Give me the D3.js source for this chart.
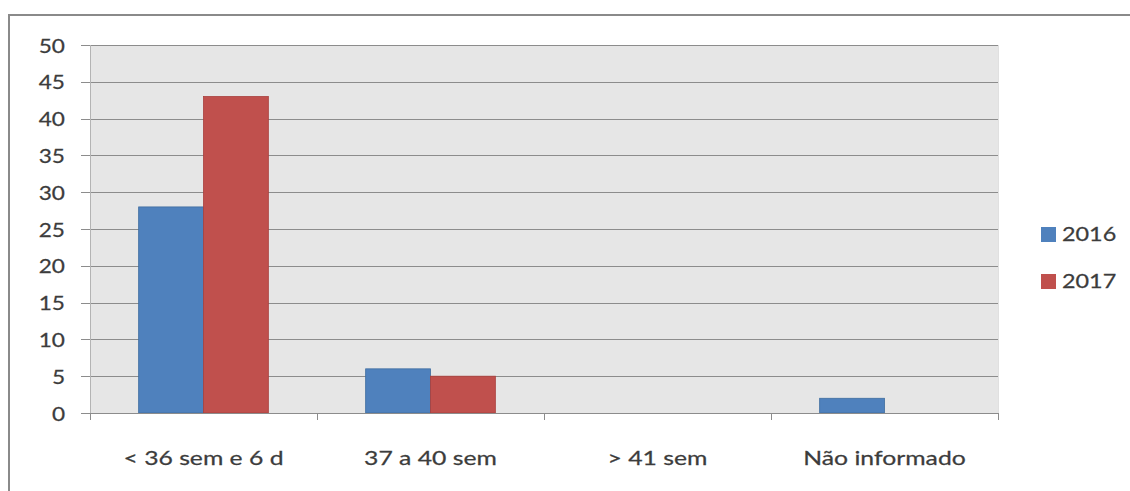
<!DOCTYPE html>
<html>
<head>
<meta charset="utf-8">
<script src="https://cdn.jsdelivr.net/npm/d3@7"></script>
<style>
  html, body { margin: 0; padding: 0; background: #fff; }
  svg { display: block; }
  text { font-family: Lato, "Open Sans", sans-serif; fill: #3c3c3c; stroke: #3c3c3c; stroke-width: 0.25px; }
</style>
</head>
<body>
<svg id="chart" width="1130" height="491"></svg>
<script>
// Categories (gestational age at birth) and counts per year
const categories = ["< 36 sem e 6 d", "37 a 40 sem", "> 41 sem", "Não informado"];
const seriesNames = ["2016", "2017"];
const values2016 = [28, 6, 0, 2];
const values2017 = [43, 5, 0, 0];
const yTicks = [0, 5, 10, 15, 20, 25, 30, 35, 40, 45, 50];
const colors = ["#4F81BD", "#C0504D"];
const strokes = ["#3f6d9f", "#a8403d"];

const svg = d3.select("#chart");
const margin = { left: 90, right: 998, top: 45, bottom: 413 };

// outer frame
svg.append("rect")
  .attr("x", 9).attr("y", 15)
  .attr("width", 1200).attr("height", 600)
  .attr("fill", "none").attr("stroke", "#8a8a8a").attr("stroke-width", 2);

const x0 = d3.scaleBand().domain(categories).range([margin.left, margin.right]);
const x1 = d3.scaleBand().domain(seriesNames).range([0, x0.bandwidth()]).paddingOuter(0.75).paddingInner(0);
const y = d3.scaleLinear().domain([0, 50]).range([margin.bottom, margin.top]);

// plot background
svg.append("rect")
  .attr("x", margin.left).attr("y", margin.top)
  .attr("width", margin.right - margin.left).attr("height", margin.bottom - margin.top)
  .attr("fill", "#e6e6e6");

// horizontal gridlines with left tick stubs
svg.append("g").selectAll("line").data(yTicks.filter(d => d > 0)).join("line")
  .attr("x1", 81).attr("x2", margin.right)
  .attr("y1", d => Math.round(y(d)) + 0.5).attr("y2", d => Math.round(y(d)) + 0.5)
  .attr("stroke", "#8c8c8c").attr("stroke-width", 1);

// plot left edge and right edge
svg.append("line")
  .attr("x1", margin.left + 0.5).attr("x2", margin.left + 0.5)
  .attr("y1", margin.top).attr("y2", margin.bottom + 7)
  .attr("stroke", "#b4b4b4");
svg.append("line")
  .attr("x1", margin.right + 0.5).attr("x2", margin.right + 0.5)
  .attr("y1", margin.top).attr("y2", margin.bottom)
  .attr("stroke", "#e0e0e0");

// y axis labels (horizontally widened glyphs)
const yAxis = d3.axisLeft(y).tickValues(yTicks).tickSize(0).tickPadding(0);
const gy = svg.append("g").attr("transform", "translate(65,0)").call(yAxis);
gy.select(".domain").remove();
gy.selectAll("text")
  .attr("font-size", 19.5)
  .attr("font-family", "Lato")
  .attr("fill", "#3c3c3c")
  .attr("x", 0)
  .attr("dy", "0.36em")
  .attr("transform", "scale(1.16,1)");

// bars
const data = categories.map((c, i) => ({ cat: c, vals: [values2016[i], values2017[i]] }));
const groups = svg.append("g").selectAll("g").data(data).join("g")
  .attr("transform", d => `translate(${x0(d.cat)},0)`);
groups.selectAll("rect")
  .data(d => d.vals.map((v, j) => ({ key: seriesNames[j], v, j })).filter(e => e.v > 0))
  .join("rect")
  .attr("x", d => x1(d.key))
  .attr("width", x1.bandwidth())
  .attr("y", d => y(d.v))
  .attr("height", d => y(0) - y(d.v))
  .attr("fill", d => colors[d.j])
  .attr("stroke", d => strokes[d.j])
  .attr("stroke-width", 0.8);

// x axis line with category boundary ticks
svg.append("line")
  .attr("x1", 81).attr("x2", margin.right)
  .attr("y1", margin.bottom + 0.5).attr("y2", margin.bottom + 0.5)
  .attr("stroke", "#8c8c8c");
const bounds = categories.map(c => x0(c)).concat([margin.right]);
svg.append("g").selectAll("line").data(bounds).join("line")
  .attr("x1", d => Math.round(d) + 0.5).attr("x2", d => Math.round(d) + 0.5)
  .attr("y1", margin.bottom).attr("y2", margin.bottom + 7)
  .attr("stroke", "#8c8c8c");

// category labels
const xAxis = d3.axisBottom(x0).tickSize(0).tickPadding(0);
const gx = svg.append("g").attr("transform", `translate(0,${margin.bottom + 52})`).call(xAxis);
gx.select(".domain").remove();
gx.selectAll("text")
  .attr("font-size", 19.5)
  .attr("font-family", "Lato")
  .attr("fill", "#3c3c3c")
  .attr("y", 0).attr("dy", 0)
  .attr("transform", "scale(1.27,1)");

// legend
const legend = svg.append("g").selectAll("g").data(seriesNames).join("g")
  .attr("transform", (d, i) => `translate(1041,${234 + i * 47})`);
legend.append("rect")
  .attr("x", 0).attr("y", -7).attr("width", 15).attr("height", 15)
  .attr("fill", (d, i) => colors[i]);
legend.append("text")
  .attr("x", 0).attr("y", 0).attr("dy", "0.36em")
  .attr("font-size", 20)
  .attr("transform", "translate(21,0) scale(1.17,1)")
  .text(d => d);
</script>
</body>
</html>
